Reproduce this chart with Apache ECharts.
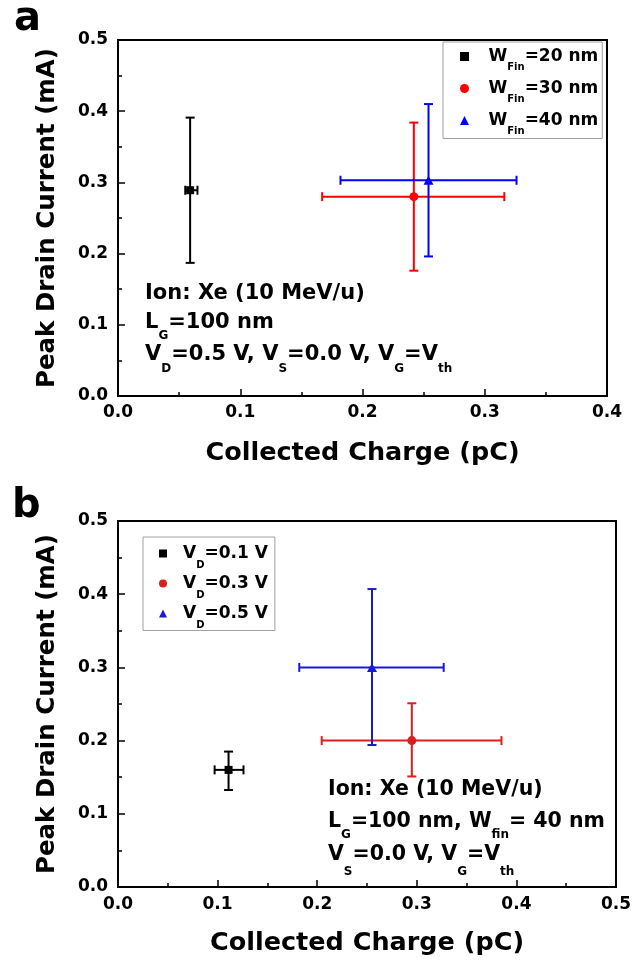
<!DOCTYPE html>
<html><head><meta charset="utf-8">
<script src="https://cdn.jsdelivr.net/npm/echarts@6/dist/echarts.min.js"></script>
<style>html,body{margin:0;padding:0;background:#fff}#c{width:641px;height:964px}</style>
</head><body><div id="c"></div>
<script>
// ---------- Panel a data ----------
const aNames = ['W_Fin=20 nm', 'W_Fin=30 nm', 'W_Fin=40 nm'];
const aX = [0.059, 0.242, 0.254];
const aY = [0.289, 0.280, 0.303];
const aXLow = [0.055, 0.167, 0.182];
const aXHigh = [0.065, 0.316, 0.326];
const aYLow = [0.187, 0.176, 0.196];
const aYHigh = [0.391, 0.384, 0.410];
const aXMax = 0.4;
// ---------- Panel b data ----------
const bNames = ['V_D=0.1 V', 'V_D=0.3 V', 'V_D=0.5 V'];
const bX = [0.111, 0.295, 0.255];
const bY = [0.160, 0.200, 0.300];
const bXLow = [0.097, 0.2045, 0.182];
const bXHigh = [0.126, 0.385, 0.327];
const bYLow = [0.1325, 0.151, 0.194];
const bYHigh = [0.185, 0.251, 0.407];
const bXMax = 0.5;
// ---------- shared axis ticks ----------
const yMax = 0.5;
const tickStep = 0.1;

const FONT = 'DejaVu Sans';
const symbols = ['rect', 'circle', 'triangle'];
const symSizes = [8, 9, [10, 9]];
const colorsA = ['#000000', '#ff0000', '#0000ff'];
const colorsB = ['#000000', '#dc1e1e', '#1a1ad2'];

function errRender(color, cap) {
  return function (params, api) {
    const x = api.value(0), y = api.value(1);
    const L = api.coord([api.value(2), y]), R = api.coord([api.value(3), y]);
    const B = api.coord([x, api.value(4)]), T = api.coord([x, api.value(5)]);
    const st = { stroke: color, lineWidth: 2 };
    const ln = (x1, y1, x2, y2) => ({ type: 'line', shape: { x1, y1, x2, y2 }, style: st });
    return { type: 'group', children: [
      ln(L[0], L[1], R[0], R[1]),
      ln(B[0], B[1], T[0], T[1]),
      ln(L[0], L[1] - cap, L[0], L[1] + cap),
      ln(R[0], R[1] - cap, R[0], R[1] + cap),
      ln(B[0] - cap, B[1], B[0] + cap, B[1]),
      ln(T[0] - cap, T[1], T[0] + cap, T[1])
    ]};
  };
}

function xAxisCfg(gi, max, nameGap, margin) {
  return {
    type: 'value', gridIndex: gi, min: 0, max: max, interval: tickStep,
    name: 'Collected Charge (pC)', nameLocation: 'middle', nameGap: nameGap,
    nameMoveOverlap: false,
    nameTextStyle: { fontFamily: FONT, fontWeight: 'bold', fontSize: 25.5, color: '#000' },
    axisLine: { show: true, onZero: false, lineStyle: { color: '#000', width: 2 } },
    axisTick: { show: true, inside: true, length: 7, lineStyle: { color: '#000', width: 1.5 } },
    minorTick: { show: true, splitNumber: 2, length: 4, lineStyle: { color: '#000', width: 1.5 } },
    axisLabel: { fontFamily: FONT, fontWeight: 'bold', fontSize: 17, color: '#000', margin: margin,
      formatter: v => v.toFixed(1) },
    splitLine: { show: false }, minorSplitLine: { show: false }
  };
}
function yAxisCfg(gi) {
  return {
    type: 'value', gridIndex: gi, min: 0, max: yMax, interval: tickStep,
    name: 'Peak Drain Current (mA)', nameLocation: 'middle', nameGap: 58,
    nameMoveOverlap: false,
    nameTextStyle: { fontFamily: FONT, fontWeight: 'bold', fontSize: 24.5, color: '#000' },
    axisLine: { show: true, onZero: false, lineStyle: { color: '#000', width: 2 } },
    axisTick: { show: true, inside: true, length: 7, lineStyle: { color: '#000', width: 1.5 } },
    minorTick: { show: true, splitNumber: 2, length: 4, lineStyle: { color: '#000', width: 1.5 } },
    axisLabel: { fontFamily: FONT, fontWeight: 'bold', fontSize: 17, color: '#000', margin: 10,
      formatter: v => v.toFixed(1) },
    splitLine: { show: false }, minorSplitLine: { show: false }
  };
}

function subRich(name) {
  const m = name.match(/^([^_]+)_([^=]+)(=.*)$/);
  return '{f|' + m[1] + '}{s|' + m[2] + '}{m|' + m[3] + '}';
}

const series = [];
function addGroup(names, X, Y, XL, XH, YL, YH, colors, gi, cap) {
  names.forEach((n, i) => {
    series.push({
      type: 'custom', name: 'err' + gi + '_' + i, xAxisIndex: gi, yAxisIndex: gi,
      renderItem: errRender(colors[i], cap), encode: { x: 0, y: 1 },
      data: [[X[i], Y[i], XL[i], XH[i], YL[i], YH[i]]], z: 2, silent: true
    });
  });
  names.forEach((n, i) => {
    series.push({
      type: 'scatter', name: n, xAxisIndex: gi, yAxisIndex: gi,
      symbol: symbols[i], symbolSize: symSizes[i],
      itemStyle: { color: colors[i], opacity: 1 },
      data: [[X[i], Y[i]]], z: 5
    });
  });
}
addGroup(aNames, aX, aY, aXLow, aXHigh, aYLow, aYHigh, colorsA, 0, 4.5);
addGroup(bNames, bX, bY, bXLow, bXHigh, bYLow, bYHigh, colorsB, 1, 4.5);

const txt = (size, extra) => Object.assign({ fontFamily: FONT, fontWeight: 'bold', fontSize: size, color: '#000' }, extra || {});

function annot(x, y, text, size, subSize, off) {
  return {
    type: 'text', x: x, y: y, z: 10,
    style: {
      text: text, align: 'left', verticalAlign: 'middle',
      fontFamily: FONT, fontWeight: 'bold', fontSize: size, fill: '#000',
      rich: {
        m: { fontFamily: FONT, fontWeight: 'bold', fontSize: size, lineHeight: size + 4, fill: '#000', color: '#000' },
        s: { fontFamily: FONT, fontWeight: 'bold', fontSize: subSize, lineHeight: subSize, padding: [off * 2, 0, 0, 0], fill: '#000', color: '#000' }
      }
    }
  };
}

const option = {
  animation: false,
  backgroundColor: '#fff',
  grid: [
    { left: 118, top: 40, right: 34, bottom: 568, show: true, borderColor: '#000', borderWidth: 2, outerBoundsMode: 'none', containLabel: false },
    { left: 118, top: 521, right: 25, bottom: 77, show: true, borderColor: '#000', borderWidth: 2, outerBoundsMode: 'none', containLabel: false }
  ],
  xAxis: [xAxisCfg(0, aXMax, 44, 8), xAxisCfg(1, bXMax, 43, 9)],
  yAxis: [yAxisCfg(0), yAxisCfg(1)],
  legend: [
    {
      data: aNames, orient: 'vertical', left: 443, top: 42,
      padding: [6, 4, 2, 17], itemGap: 7.5, itemWidth: 9, itemHeight: 9,
      borderColor: '#a0a0a0', borderWidth: 1, backgroundColor: '#fff',
      selectedMode: false,
      formatter: subRich,
      textStyle: { rich: {
        f: txt(17, { padding: [0, 0, 0, 14.5], lineHeight: 22 }),
        m: txt(17, { lineHeight: 22 }),
        s: txt(10, { padding: [11, 0, -11, 0] })
      } }
    },
    {
      data: bNames, orient: 'vertical', left: 143, top: 537,
      padding: [8, 7, 0, 16], itemGap: 4.5, itemWidth: 8, itemHeight: 8,
      borderColor: '#a0a0a0', borderWidth: 1, backgroundColor: '#fff',
      selectedMode: false,
      formatter: subRich,
      textStyle: { rich: {
        f: txt(17, { padding: [0, 0, 0, 11], lineHeight: 20 }),
        m: txt(17, { lineHeight: 20 }),
        s: txt(10, { padding: [12, 0, -12, 0] })
      } }
    }
  ],
  graphic: [
    { type: 'text', x: 14, y: 20, z: 10, style: { text: 'a', align: 'left', verticalAlign: 'middle', fontFamily: FONT, fontWeight: 'bold', fontSize: 40, fill: '#000' } },
    { type: 'text', x: 12, y: 507, z: 10, style: { text: 'b', align: 'left', verticalAlign: 'middle', fontFamily: FONT, fontWeight: 'bold', fontSize: 40, fill: '#000' } },
    annot(145, 294, '{m|Ion: Xe (10 MeV/u)}', 21, 12, 13),
    annot(145, 323, '{m|L}{s|G}{m|=100 nm}', 21, 12, 13),
    annot(145, 355, '{m|V}{s|D}{m|=0.5 V, V}{s|S}{m|=0.0 V, V}{s|G}{m|=V}{s|th}', 21, 12, 14),
    annot(328, 790, '{m|Ion: Xe (10 MeV/u)}', 20.5, 12, 13),
    annot(328, 822, '{m|L}{s|G}{m|=100 nm, W}{s|fin}{m|= 40 nm}', 20.5, 12, 13),
    annot(328, 855, '{m|V}{s|S}{m|=0.0 V, V}{s|G}{m|=V}{s|th}', 20.5, 12, 17)
  ],
  series: series
};

const chart = echarts.init(document.getElementById('c'), null, { renderer: 'canvas' });
chart.setOption(option);
</script>
</body></html>
